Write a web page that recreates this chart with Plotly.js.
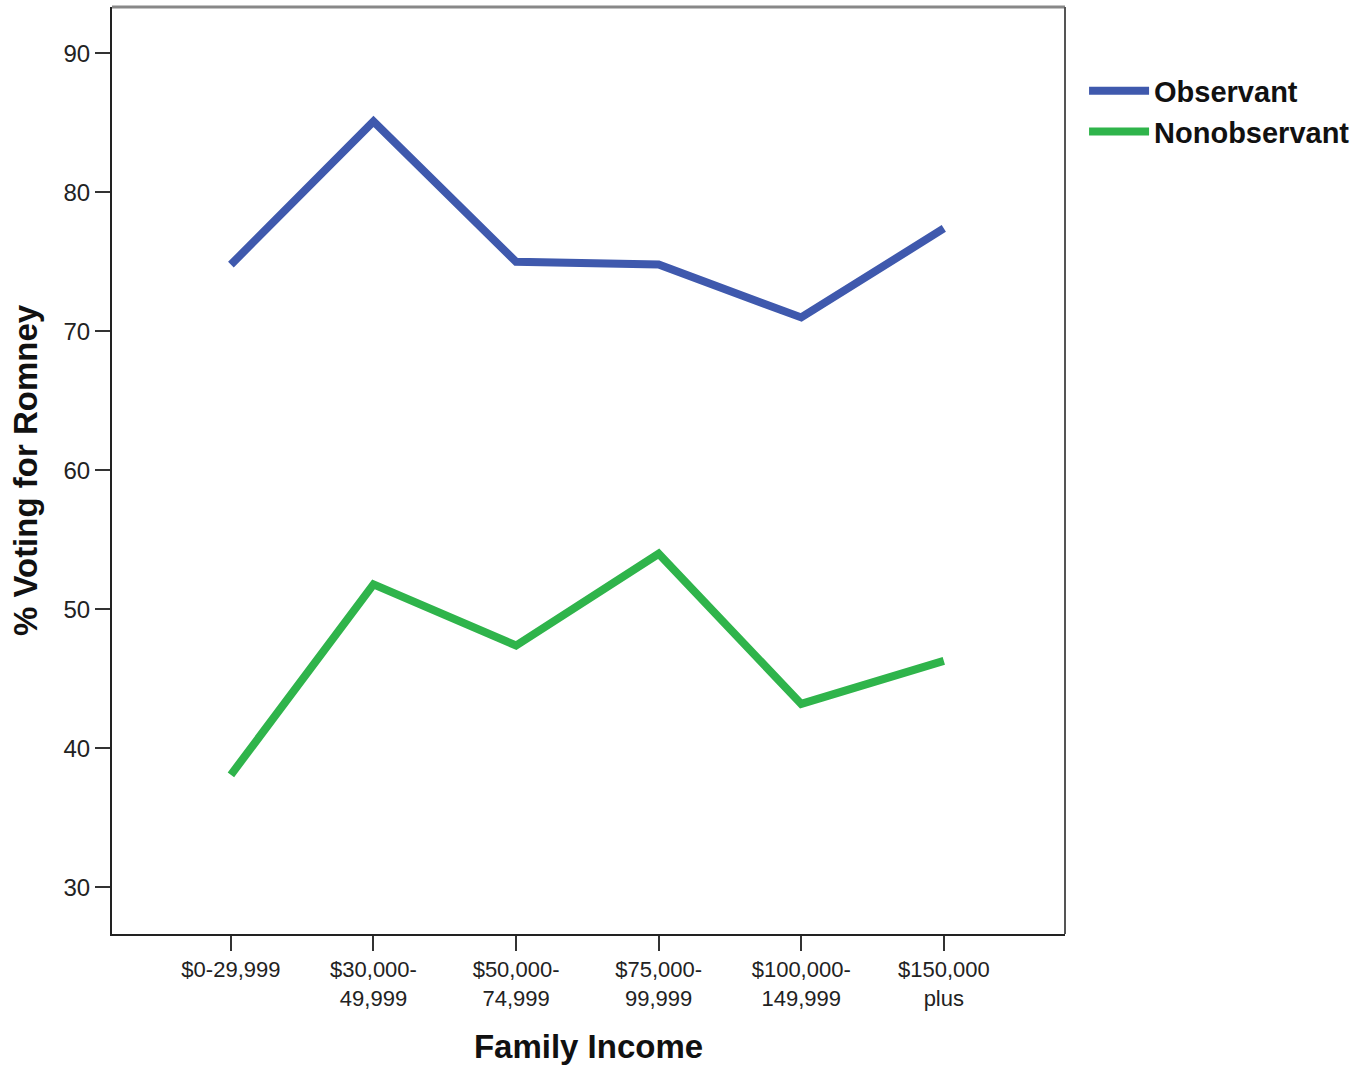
<!DOCTYPE html>
<html>
<head>
<meta charset="utf-8">
<script src="https://cdn.plot.ly/plotly-3.0.1.min.js"></script>
<style>body{margin:0;background:#fff}#chart{width:1366px;height:1066px}</style>
</head>
<body>
<div id="chart"></div>
<script>
var categories = ["$0-29,999", "$30,000-<br>49,999", "$50,000-<br>74,999", "$75,000-<br>99,999", "$100,000-<br>149,999", "$150,000<br>plus"];
var observant = [74.8, 85.1, 75.0, 74.8, 71.0, 77.4];
var nonobservant = [38.1, 51.8, 47.4, 54.0, 43.2, 46.3];
var yTicks = [30, 40, 50, 60, 70, 80, 90];

var font = '"Liberation Sans", Arial, sans-serif';
var traces = [
  {x: categories, y: observant, name: "Observant", type: "scatter", mode: "lines",
   line: {color: "#3f59ad", width: 8}},
  {x: categories, y: nonobservant, name: "Nonobservant", type: "scatter", mode: "lines",
   line: {color: "#2fb44b", width: 8}}
];
var layout = {
  width: 1366, height: 1066,
  margin: {l: 112, r: 301, t: 7, b: 132},
  paper_bgcolor: "#fff", plot_bgcolor: "#fff",
  font: {family: font, color: "#222"},
  showlegend: true,
  legend: {x: 1.02, xanchor: "left", y: 0.937, yanchor: "top",
    font: {family: font, size: 29, color: "#111", weight: "bold"},
    bgcolor: "rgba(0,0,0,0)", tracegroupgap: 0, itemwidth: 60},
  xaxis: {type: "category", range: [-0.834, 5.85], showgrid: false, zeroline: false,
    showline: true, linecolor: "#222", linewidth: 2,
    ticks: "outside", ticklen: 15, tickwidth: 2, tickcolor: "#333",
    tickfont: {size: 22, color: "#222"},
    title: {text: "Family Income", font: {size: 33, weight: "bold", color: "#111"}, standoff: 25}},
  yaxis: {range: [26.65, 93.33], tickvals: yTicks, showgrid: false, zeroline: false,
    showline: true, linecolor: "#222", linewidth: 2,
    ticks: "outside", ticklen: 15, tickwidth: 2, tickcolor: "#333",
    tickfont: {size: 24, color: "#222"},
    title: {text: "% Voting for Romney", font: {size: 33, weight: "bold", color: "#111"}, standoff: 16}},
  shapes: [
    {type: "line", xref: "paper", yref: "paper", x0: 0, x1: 1, y0: 1, y1: 1, line: {color: "#888", width: 3}},
    {type: "line", xref: "paper", yref: "paper", x0: 1, x1: 1, y0: 0, y1: 1, line: {color: "#555", width: 2}}
  ]
};
Plotly.newPlot("chart", traces, layout, {displayModeBar: false});
</script>
</body>
</html>
